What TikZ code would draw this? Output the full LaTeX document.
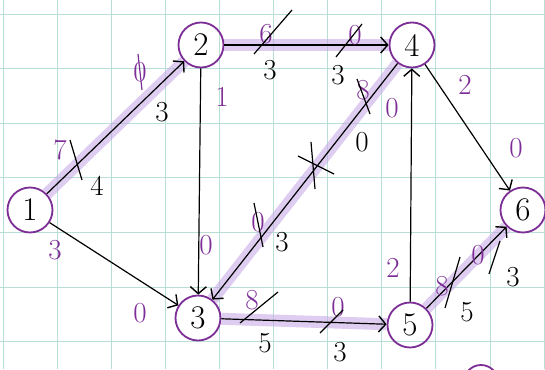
\documentclass[tikz,border=0pt]{standalone}
\usetikzlibrary{arrows.meta}
\definecolor{gridc}{RGB}{185,222,215}
\definecolor{pur}{RGB}{125,45,150}
\definecolor{hl}{RGB}{195,165,228}
\tikzset{
 vert/.style={circle,draw=pur,line width=1.8pt,minimum size=45pt,inner sep=0pt,font=\fontsize{33}{35}\selectfont},
 edge/.style={draw=black,line width=1.2pt,-{Straight Barb[length=7pt,width=16pt,line width=1.4pt]}},
 hlt/.style={draw=hl,line width=12pt,opacity=0.55},
 bl/.style={font=\fontsize{29}{31}\selectfont,inner sep=0pt},
 pl/.style={bl,text=pur},
 slash/.style={line width=1.2pt,draw=black},
 pslash/.style={line width=1.2pt,draw=pur},
}
\begin{document}
\begin{tikzpicture}[x=1pt,y=-1pt]
\useasboundingbox (0,0) rectangle (545,369);
\fill[white] (0,0) rectangle (545,369);
% grid
\foreach \i in {0,...,10} {\draw[gridc,line width=0.8pt] ({3+54.1*\i},0) -- ({3+54.1*\i},369);}
\foreach \j in {0,...,6} {\draw[gridc,line width=0.8pt] (0,{14+54.6*\j}) -- (545,{14+54.6*\j});}
% vertices
\node[vert] (v1) at (30,210) {1};
\node[vert] (v2) at (201,45) {2};
\node[vert] (v3) at (198,318) {3};
\node[vert] (v4) at (412,45) {4};
\node[vert] (v5) at (410,325) {5};
\node[vert] (v6) at (523,210) {6};
% partial vertex at bottom edge
\begin{scope}
\clip (0,0) rectangle (545,369);
\draw[pur,line width=1.8pt] (481,382) circle[radius=17];
\end{scope}
% highlights
\draw[hlt] (v1) -- (v2);
\draw[hlt] (v2) -- (v4);
\draw[hlt] (v4) -- (v3);
\draw[hlt] (v3) -- (v5);
\draw[hlt] (v5) -- (v6);
% edges
\draw[edge] (v1) -- (v2);
\draw[edge] (v2) -- (v4);
\draw[edge] (v4) -- (v3);
\draw[edge] (v3) -- (v5);
\draw[edge] (v5) -- (v6);
\draw[edge] (v1) -- (v3);
\draw[edge] (v2) -- (v3);
\draw[edge] (v5) -- (v4);
\draw[edge] (v4) -- (v6);
% labels edge 1-2
\node[pl] (a1) at (60,150) {7};
\draw[slash] (70,140) -- (82,180);
\node[bl] (a2) at (97,186) {4};
\node[pl] (a3) at (140,72) {0};
\draw[pslash] (138,54) -- (142,90);
\node[bl] (a4) at (162,112) {3};
% edge 2-4
\node[pl] (b1) at (266,34) {6};
\draw[slash] (254,54) -- (292,10);
\node[bl] (b2) at (270,70) {3};
\node[pl] (b3) at (355,35) {0};
\draw[slash] (336,57) -- (362,24);
\node[bl] (b4) at (338,75) {3};
% edge 4-3
\node[pl] (c1) at (363,90) {8};
\draw[slash] (357,79) -- (370,114);
\node[pl] (c2) at (392,108) {0};
\node[bl] (c3) at (362,142) {0};
\draw[slash] (298,156) -- (334,174);
\draw[slash] (311,142) -- (315,189);
\node[pl] (c4) at (258,222) {0};
\draw[slash] (254,203) -- (263,247);
\node[bl] (c5) at (282,242) {3};
% edge 2-3
\node[pl] (d1) at (222,97) {1};
\node[pl] (d2) at (206,245) {0};
% edge 1-3
\node[pl] (e1) at (55,250) {3};
\node[pl] (e2) at (140,313) {0};
% edge 3-5
\node[pl] (f1) at (252,300) {8};
\draw[slash] (240,323) -- (278,292);
\node[bl] (f2) at (265,343) {5};
\node[pl] (f3) at (338,307) {0};
\draw[slash] (320,333) -- (343,310);
\node[bl] (f4) at (340,352) {3};
% edge 5-4
\node[pl] (g1) at (393,268) {2};
% edge 4-6
\node[pl] (h1) at (465,85) {2};
\node[pl] (h2) at (516,148) {0};
% edge 5-6
\node[pl] (i1) at (442,286) {8};
\draw[slash] (445,308) -- (460,257);
\node[bl] (i2) at (467,312) {5};
\node[pl] (i3) at (478,255) {0};
\draw[slash] (489,274) -- (500,241);
\node[bl] (i4) at (513,277) {3};
\end{tikzpicture}
\end{document}
